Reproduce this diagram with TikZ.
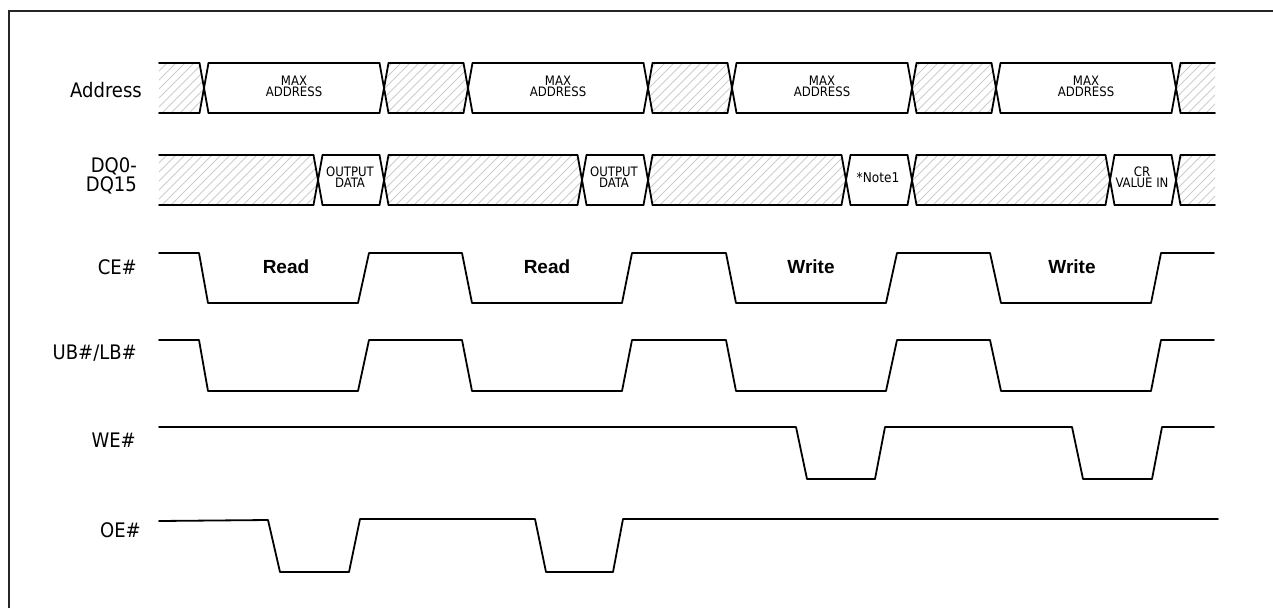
\documentclass[tikz,border=0pt]{standalone}
\usepackage{fontspec}
\setmainfont{Liberation Sans}
\newfontfamily\cond{DejaVu Sans Condensed}
\newcommand\busseg[7]{% #1 L tip, #2 R tip, #3 top, #4 bot, #5 dl, #6 dr, #7 hatched
  \ifnum#7=1
  \begin{scope}
  \clip (#1,{(#3+#4)/2}) -- ({#1+#5},#3) -- ({#2-#6},#3) -- (#2,{(#3+#4)/2}) -- ({#2-#6},#4) -- ({#1+#5},#4) -- cycle;
  \foreach \k in {-60,-51,...,260} \draw[hatchline] ({#1+\k},#4) -- ++(60,-60);
  \end{scope}
  \fi
  \draw[sig] ({#1+#5},#3) -- ({#2-#6},#3) ({#1+#5},#4) -- ({#2-#6},#4);
}
\newcommand\buscross[3]{% #1 x, #2 top, #3 bot
  \draw[sig] ({#1-4.5},#2) -- ({#1+4.5},#3) ({#1+4.5},#2) -- ({#1-4.5},#3);
}
\begin{document}
\begin{tikzpicture}[x=1pt,y=-1pt,
  sig/.style={line width=1.8pt, line join=round, line cap=round},
  hatchline/.style={black!20, line width=0.8pt},
  lab/.style={font=\cond\fontsize{20}{20}\selectfont, anchor=east, inner sep=0pt, align=right},
  op/.style={font=\bfseries\fontsize{19}{19}\selectfont, inner sep=0pt},
  small/.style={font=\cond\fontsize{13}{11}\selectfont, align=center, inner sep=0pt}]
\useasboundingbox (0,0) rectangle (1273,608);
\draw[line width=1.5pt, black!85] (9,608) -- (9,11) -- (1273,11);

% Address bus
\busseg{159}{204}{63}{113}{0}{4.5}{1}
\busseg{204}{384}{63}{113}{4.5}{4.5}{0}
\busseg{384}{468}{63}{113}{4.5}{4.5}{1}
\busseg{468}{648}{63}{113}{4.5}{4.5}{0}
\busseg{648}{732}{63}{113}{4.5}{4.5}{1}
\busseg{732}{912}{63}{113}{4.5}{4.5}{0}
\busseg{912}{996}{63}{113}{4.5}{4.5}{1}
\busseg{996}{1176}{63}{113}{4.5}{4.5}{0}
\busseg{1176}{1215}{63}{113}{4.5}{0}{1}
\foreach \c in {204,384,468,648,732,912,996,1176} \buscross{\c}{63}{113};

% DQ bus
\busseg{159}{318}{155}{205}{0}{4.5}{1}
\busseg{318}{384}{155}{205}{4.5}{4.5}{0}
\busseg{384}{582}{155}{205}{4.5}{4.5}{1}
\busseg{582}{648}{155}{205}{4.5}{4.5}{0}
\busseg{648}{846}{155}{205}{4.5}{4.5}{1}
\busseg{846}{912}{155}{205}{4.5}{4.5}{0}
\busseg{912}{1110}{155}{205}{4.5}{4.5}{1}
\busseg{1110}{1176}{155}{205}{4.5}{4.5}{0}
\busseg{1176}{1215}{155}{205}{4.5}{0}{1}
\foreach \c in {318,384,582,648,846,912,1110,1176} \buscross{\c}{155}{205};

% bus texts
\node[small] (ma1) at (294,86.5) {MAX\\ADDRESS};
\node[small] (ma2) at (558,86.5) {MAX\\ADDRESS};
\node[small] (ma3) at (822,86.5) {MAX\\ADDRESS};
\node[small] (ma4) at (1086,86.5) {MAX\\ADDRESS};
\node[small] (od1) at (350,177.5) {OUTPUT\\DATA};
\node[small] (od2) at (614,177.5) {OUTPUT\\DATA};
\node[small, font=\cond\fontsize{13.5}{13.5}\selectfont] (n1) at (878,178) {*Note1};
\node[small] (cr) at (1142,177.5) {CR\\VALUE IN};

% CE#
\draw[sig] (159,253) -- (199,253) -- (208,303) -- (358,303) -- (369,253) -- (462,253) -- (472,303) -- (622,303) -- (632,253) -- (726,253) -- (736,303) -- (886,303) -- (897,253) -- (990,253) -- (1001,303) -- (1151,303) -- (1161,253) -- (1214,253);
% UB#/LB#
\draw[sig] (159,340) -- (199,340) -- (208,391) -- (358,391) -- (369,340) -- (462,340) -- (472,391) -- (622,391) -- (632,340) -- (726,340) -- (736,391) -- (886,391) -- (897,340) -- (990,340) -- (1001,391) -- (1151,391) -- (1161,340) -- (1214,340);
% WE#
\draw[sig] (159,427) -- (796,427) -- (807,479) -- (875,479) -- (885,427) -- (1072,427) -- (1083,479) -- (1152,479) -- (1162,427) -- (1214,427);
% OE#
\draw[sig] (159,521) -- (268,520) -- (280,572) -- (349,572) -- (360,519) -- (535,519) -- (546,572) -- (613,572) -- (623,519) -- (1218,519);

% operation labels
\node[op] (r1) at (286,267) {Read};
\node[op] (r2) at (547,267) {Read};
\node[op] (w1) at (811,267) {Write};
\node[op] (w2) at (1072,267) {Write};

% signal names
\node[lab] (la) at (142,90) {Address};
\node[lab, font=\cond\fontsize{20}{17}\selectfont] (ldq) at (137,176) {DQ0-\\DQ15};
\node[lab] (lce) at (137,267) {CE\#};
\node[lab] (lub) at (137,353) {UB\#/LB\#};
\node[lab] (lwe) at (136,440) {WE\#};
\node[lab] (loe) at (141,530) {OE\#};
\end{tikzpicture}
\end{document}
